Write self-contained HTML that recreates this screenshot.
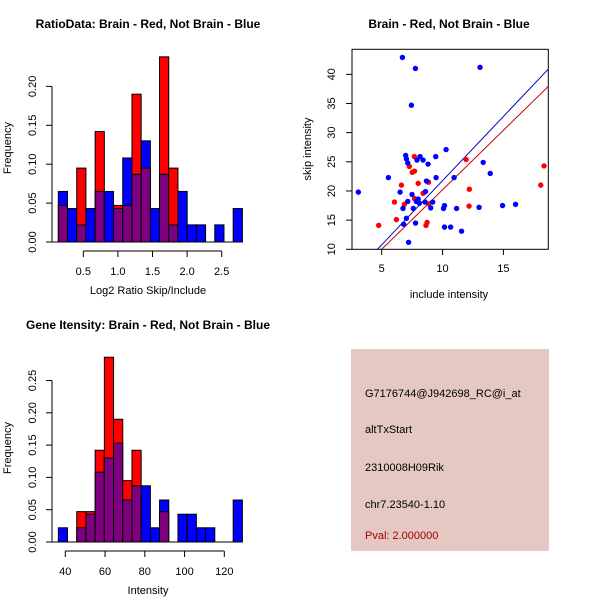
<!DOCTYPE html>
<html><head><meta charset="utf-8"><style>
body{margin:0;background:#fff}
svg{display:block;font-family:"Liberation Sans",sans-serif}
</style></head><body>
<svg id="s" width="600" height="600" viewBox="0 0 600 600">
<rect width="600" height="600" fill="#fff"/>
</svg>
<script>
// ---- Ratio histogram data (20 bins) ----
const ratioRed  = [0.047,0,0.095,0,0.142,0,0.047,0.047,0.19,0.095,0,0.238,0.095,0,0,0,0,0,0,0];
const ratioBlue = [0.065,0.043,0.022,0.043,0.065,0.065,0.043,0.108,0.087,0.13,0.043,0.087,0.022,0.065,0.022,0.022,0,0.022,0,0.043];
const ratioBinStart = 0.139, ratioBinWidth = 0.133;
const ratioXTicks = [0.5,1.0,1.5,2.0,2.5];
const ratioXTickLabels = ["0.5","1.0","1.5","2.0","2.5"];
const ratioYTicks = [0,0.05,0.10,0.15,0.20];
const ratioYTickLabels = ["0.00","0.05","0.10","0.15","0.20"];
// ---- Intensity histogram data (20 bins) ----
const intRed  = [0,0,0.047,0.047,0.142,0.286,0.19,0.095,0.142,0,0,0.047,0,0,0,0,0,0,0,0];
const intBlue = [0.022,0,0.022,0.043,0.108,0.13,0.153,0.065,0.087,0.087,0.022,0.065,0,0.043,0.043,0.022,0.022,0,0,0.065];
const intBinStart = 36.5, intBinWidth = 4.63;
const intXTicks = [40,60,80,100,120];
const intXTickLabels = ["40","60","80","100","120"];
const intYTicks = [0,0.05,0.10,0.15,0.20,0.25];
const intYTickLabels = ["0.00","0.05","0.10","0.15","0.20","0.25"];
// ---- Scatter data ----
const blueX = [3.08,6.70,7.77,13.08,7.44,10.29,6.97,7.03,7.9,8.15,8.4,9.44,7.14,8.81,5.55,8.68,9.47,10.95,13.34,13.92,6.51,7.49,8.6,6.75,7.14,7.6,7.85,8.0,8.1,8.56,9.19,9.03,10.08,10.16,11.15,13.0,14.93,16.0,7.03,6.8,7.78,10.16,10.66,11.56,7.21];
const blueY = [19.8,42.9,41.0,41.2,34.7,27.1,26.1,25.5,25.3,25.9,25.3,25.9,24.8,24.6,22.3,21.7,22.3,22.3,24.9,23.0,19.8,19.4,19.9,17.0,18.2,17.0,18.2,18.6,17.9,18.1,18.1,17.1,17.0,17.5,17.0,17.2,17.5,17.7,15.3,14.3,14.5,13.8,13.8,13.1,11.2];
const redX = [4.75,6.21,6.05,6.62,6.86,7.27,7.68,7.51,7.7,8.0,7.7,8.4,8.84,8.86,8.73,8.64,11.93,12.2,12.18,18.07,18.34];
const redY = [14.1,15.1,18.1,21.0,17.7,24.2,25.9,23.2,23.4,21.3,18.7,19.6,21.5,17.8,14.6,14.1,25.4,20.3,17.4,21.0,24.3];
const lineSlope = [2.2,2.04];      // blue, red
const lineIntercept = [-0.23,-0.2];
const scX = [5,10,15], scY = [10,15,20,25,30,35,40];

const NS="http://www.w3.org/2000/svg", S=document.getElementById('s');
function mk(tag,at,parent){const e=document.createElementNS(NS,tag);for(const k in at)e.setAttribute(k,at[k]);(parent||S).appendChild(e);return e;}
function txt(x,y,s,at,parent){const t=mk('text',Object.assign({x:x,y:y,'font-size':11,fill:'#000'},at),parent);t.textContent=s;return t;}

function hist(name,oy,red,blue,start,w,xfn,yfn,xt,xtl,yt,ytl,xlabel,title){
  const g=mk('g',{});
  
  
  for(let i=0;i<red.length;i++){
    const x0=xfn(start+i*w), x1=xfn(start+(i+1)*w);
    const r=red[i], b=blue[i], hi=Math.max(r,b), lo=Math.min(r,b);
    if(hi>0){
      const e=mk('rect',{x:x0,y:yfn(hi),width:x1-x0,height:yfn(0)-yfn(hi),fill:r>b?'#ff0000':'#0000ff',stroke:'#000','stroke-width':1},g);
      
      
    }
    if(lo>0){
      const e=mk('rect',{x:x0,y:yfn(lo),width:x1-x0,height:yfn(0)-yfn(lo),fill:'#7f007f',stroke:'#000','stroke-width':1},g);
      
      
    }
  }
  const xe=xfn(start+red.length*w);
  mk('line',{x1:52,x2:xe,y1:yfn(0),y2:yfn(0),stroke:'#000'},g);
  mk('line',{x1:52,x2:52,y1:yfn(yt[0]),y2:yfn(yt[yt.length-1]),stroke:'#000'},g);
  yt.forEach((v,i)=>{const y=yfn(v);mk('line',{x1:46,x2:52,y1:y,y2:y,stroke:'#000'},g);
    txt(0,0,ytl[i],{transform:`translate(36,${y}) rotate(-90)`,'text-anchor':'middle'},g);});
  const ay=yfn(0)+9;
  mk('line',{x1:xfn(xt[0]),x2:xfn(xt[xt.length-1]),y1:ay,y2:ay,stroke:'#000'},g);
  xt.forEach((v,i)=>{const x=xfn(v);mk('line',{x1:x,x2:x,y1:ay,y2:ay+6,stroke:'#000'},g);
    txt(x,ay+24,xtl[i],{'text-anchor':'middle'},g);});
  const xl=txt(148,yfn(0)+52,xlabel,{'text-anchor':'middle'},g);
  
  const yl=txt(0,0,'Frequency',{transform:`translate(11,${yfn(0)-94}) rotate(-90)`,'text-anchor':'middle'},g);
  
  const t=txt(148,oy,title,{'text-anchor':'middle','font-weight':'bold','font-size':12},g);
  
}
const rx=v=>83.3+(v-0.5)*69.2, ry=v=>242-v*778;
hist('ratio-histogram',28,ratioRed,ratioBlue,ratioBinStart,ratioBinWidth,rx,ry,ratioXTicks,ratioXTickLabels,ratioYTicks,ratioYTickLabels,'Log2 Ratio Skip/Include','RatioData: Brain - Red, Not Brain - Blue');
const ix=v=>65.3+(v-40)*1.9875, iy=v=>542-v*646;
hist('intensity-histogram',329,intRed,intBlue,intBinStart,intBinWidth,ix,iy,intXTicks,intXTickLabels,intYTicks,intYTickLabels,'Intensity','Gene Itensity: Brain - Red, Not Brain - Blue');

const sg=mk('g',{});


const sx=v=>381.7+(v-5)*12.17, sy=v=>249.3-(v-10)*5.833;
mk('defs',{},sg).innerHTML='<clipPath id="cp"><rect x="352" y="49" width="196" height="200"/></clipPath>';
mk('rect',{x:352,y:49.3,width:196.3,height:200,fill:'none',stroke:'#000'},sg);
const lc=['#0000cc','#cc0000'];
lineSlope.forEach((m,i)=>{const l=mk('line',{x1:sx(3),y1:sy(m*3+lineIntercept[i]),x2:sx(20),y2:sy(m*20+lineIntercept[i]),stroke:lc[i],'stroke-width':1,'clip-path':'url(#cp)'},sg);
  });
redX.forEach((v,i)=>{const c=mk('circle',{cx:sx(v),cy:sy(redY[i]),r:2.7,fill:'#ff0000'},sg);
  });
blueX.forEach((v,i)=>{const c=mk('circle',{cx:sx(v),cy:sy(blueY[i]),r:2.7,fill:'#0000ff'},sg);
  });
scX.forEach(v=>{const x=sx(v);mk('line',{x1:x,x2:x,y1:249.3,y2:255,stroke:'#000'},sg);txt(x,272,String(v),{'text-anchor':'middle'},sg);});
scY.forEach(v=>{const y=sy(v);mk('line',{x1:346,x2:352,y1:y,y2:y,stroke:'#000'},sg);txt(0,0,String(v),{transform:`translate(335,${y}) rotate(-90)`,'text-anchor':'middle'},sg);});
let e=txt(449,298,'include intensity',{'text-anchor':'middle'},sg);

e=txt(0,0,'skip intensity',{transform:'translate(311,149) rotate(-90)','text-anchor':'middle'},sg);

e=txt(449,28,'Brain - Red, Not Brain - Blue',{'text-anchor':'middle','font-weight':'bold','font-size':12},sg);


const ig=mk('g',{});


mk('rect',{x:351,y:349,width:198,height:202,fill:'#e6c8c2'},ig);
[['G7176744@J942698_RC@i_at',397,'#000','probe-id'],['altTxStart',433,'#000','event-type'],['2310008H09Rik',471,'#000','gene-name'],['chr7.23540-1.10',508,'#000','location'],['Pval: 2.000000',539,'#a00000','p-value']].forEach(d=>{
  const t=txt(365,d[1],d[0],{fill:d[2]},ig);
  });
</script>
</body></html>
